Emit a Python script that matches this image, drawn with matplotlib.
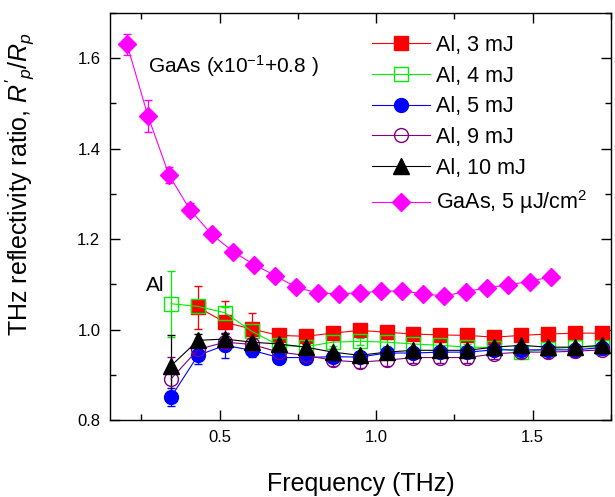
import matplotlib
matplotlib.use("Agg")
import matplotlib.pyplot as plt
from matplotlib.ticker import MultipleLocator
from matplotlib.lines import Line2D

plt.rcParams['font.family'] = ['Liberation Sans', 'DejaVu Sans']
plt.rcParams['mathtext.fontset'] = 'custom'
plt.rcParams['mathtext.rm'] = 'Liberation Sans'
plt.rcParams['mathtext.it'] = 'Liberation Sans:italic'
plt.rcParams['mathtext.bf'] = 'Liberation Sans:bold'

# ---------------- data ----------------
freq_al = [0.345, 0.431, 0.517, 0.603, 0.689, 0.775, 0.861, 0.947, 1.033,
           1.119, 1.205, 1.291, 1.377, 1.463, 1.549, 1.635, 1.721]

al_3mJ = [None, 1.049, 1.016, 1.001, 0.987, 0.985, 0.992, 0.998, 0.994,
          0.990, 0.988, 0.987, 0.983, 0.987, 0.990, 0.992, 0.992]
al_3mJ_err = [None, 0.048, 0.046, 0.035, 0.010, 0.012, 0.006, 0.006, 0.006,
              0.006, 0.006, 0.006, 0.006, 0.006, 0.006, 0.006, 0.006]

al_4mJ = [1.057, 1.051, 1.037, 0.996, 0.965, 0.962, 0.972, 0.974, 0.972,
          0.968, 0.965, 0.961, 0.960, 0.950, 0.957, 0.961, 0.962]
al_4mJ_err = [0.073, 0.010, 0.012, 0.010, 0.008, 0.008, 0.008, 0.008, 0.008,
              0.008, 0.008, 0.008, 0.008, 0.008, 0.008, 0.008, 0.008]

al_5mJ = [0.851, 0.943, 0.965, 0.954, 0.938, 0.938, 0.940, 0.939, 0.948,
          0.948, 0.950, 0.950, 0.955, 0.955, 0.955, 0.955, 0.960]
al_5mJ_err = [0.020, 0.020, 0.028, 0.015, 0.008, 0.008, 0.008, 0.008, 0.008,
              0.008, 0.008, 0.008, 0.008, 0.008, 0.008, 0.008, 0.008]

al_9mJ = [0.891, 0.956, 0.972, 0.967, 0.950, 0.943, 0.932, 0.928, 0.932,
          0.938, 0.938, 0.938, 0.946, 0.950, 0.950, 0.952, 0.955]
al_9mJ_err = [0.049, 0.020, 0.020, 0.012, 0.012, 0.012, 0.012, 0.012, 0.012,
              0.012, 0.012, 0.012, 0.012, 0.012, 0.012, 0.012, 0.012]

al_10mJ = [0.920, 0.976, 0.979, 0.972, 0.968, 0.961, 0.950, 0.943, 0.950,
           0.954, 0.954, 0.954, 0.961, 0.965, 0.961, 0.961, 0.965]
al_10mJ_err = [0.068, 0.015, 0.010, 0.010, 0.008, 0.008, 0.008, 0.008, 0.008,
               0.008, 0.008, 0.008, 0.008, 0.008, 0.008, 0.008, 0.008]

freq_gaas = [0.204, 0.271, 0.338, 0.405, 0.474, 0.543, 0.611, 0.678, 0.745,
             0.813, 0.881, 0.948, 1.015, 1.083, 1.150, 1.218, 1.286, 1.354,
             1.422, 1.490, 1.558]
gaas = [1.631, 1.472, 1.342, 1.265, 1.211, 1.172, 1.143, 1.119, 1.093,
        1.081, 1.079, 1.081, 1.085, 1.085, 1.079, 1.074, 1.084, 1.092,
        1.099, 1.106, 1.117]
gaas_err = [0.023, 0.036, 0.018, 0.015, 0.006, 0.005, 0.005, 0.005, 0.004,
            0.004, 0.004, 0.004, 0.004, 0.004, 0.004, 0.004, 0.004, 0.004,
            0.004, 0.004, 0.004]

labels = ["Al, 3 mJ", "Al, 4 mJ", "Al, 5 mJ", "Al, 9 mJ", "Al, 10 mJ",
          "GaAs, 5 µJ/cm$^2$"]

# ---------------- figure ----------------
fig = plt.figure(figsize=(6.15, 4.97), dpi=100)
ax = fig.add_axes([0.179, 0.155, 0.8145, 0.819])


def pick(xs, ys, es):
    px, py, pe = [], [], []
    for a, b, c in zip(xs, ys, es):
        if b is not None:
            px.append(a); py.append(b); pe.append(c)
    return px, py, pe


series = [
    (freq_al, al_3mJ, al_3mJ_err, '#ff0000', 's', '#ff0000', 9.5),
    (freq_al, al_4mJ, al_4mJ_err, '#00ee00', 's', 'none', 9.5),
    (freq_al, al_5mJ, al_5mJ_err, '#0000ff', 'o', '#0000ff', 10),
    (freq_al, al_9mJ, al_9mJ_err, '#800080', 'o', 'none', 10),
    (freq_al, al_10mJ, al_10mJ_err, '#000000', '^', '#000000', 11),
    (freq_gaas, gaas, gaas_err, '#ff00ff', 'D', '#ff00ff', 9),
]
handles = []
for (xs, ys, es, col, mk, mfc, ms), lab in zip(series, labels):
    px, py, pe = pick(xs, ys, es)
    ax.errorbar(px, py, yerr=pe, color=col, marker=mk, mfc=mfc, mec=col,
                ms=ms, mew=1.0, lw=0.8, elinewidth=0.9, capsize=3,
                capthick=0.9)
    handles.append(Line2D([], [], color=col, marker=mk, mfc=mfc, mec=col,
                          ms=ms, mew=1.0, lw=0.8, label=lab))

ax.set_xlim(0.15, 1.75)
ax.set_ylim(0.8, 1.7)
ax.xaxis.set_major_locator(MultipleLocator(0.5))
ax.xaxis.set_minor_locator(MultipleLocator(0.25))
ax.yaxis.set_major_locator(MultipleLocator(0.2))
ax.yaxis.set_minor_locator(MultipleLocator(0.1))
ax.tick_params(which='both', direction='in', top=True, right=True,
               labelsize=12, width=1.0)
ax.tick_params(which='major', length=7, pad=7)
ax.tick_params(which='minor', length=4)
for s in ax.spines.values():
    s.set_linewidth(1.0)

ax.set_xlabel("Frequency (THz)", fontsize=18, labelpad=20)
ax.set_ylabel("THz reflectivity ratio, $R'_p/R_p$", fontsize=18)
ax.yaxis.set_label_coords(-0.145, 0.58)

ax.text(0.272, 1.583, "GaAs (x10$^{-1}$+0.8 )", fontsize=15, va='center')
ax.text(0.263, 1.097, "Al", fontsize=15, va='center')

ax.legend(handles=handles, loc='upper left', bbox_to_anchor=(0.505, 0.967),
          frameon=False, fontsize=15.5, handlelength=2.7, handletextpad=0.3,
          labelspacing=0.45, borderaxespad=0.0)

fig.savefig("out.png", dpi=100)
